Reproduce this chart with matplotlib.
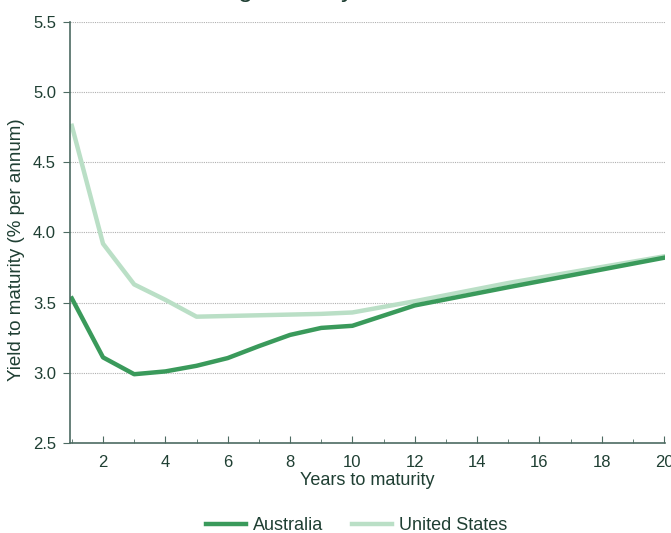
import matplotlib.pyplot as plt
from matplotlib.ticker import MultipleLocator

plt.rcParams['font.family'] = ['Liberation Sans', 'DejaVu Sans']

# yields, % per annum
years_au = [1, 2, 3, 4, 5, 6, 7, 8, 9, 10, 12, 15, 20]
australia = [3.53, 3.11, 2.99, 3.01, 3.05, 3.105, 3.19, 3.27, 3.32, 3.335, 3.48, 3.61, 3.82]
years_us = [1, 2, 3, 4, 5, 6, 7, 8, 9, 10, 12, 15, 20]
united_states = [4.76, 3.92, 3.63, 3.52, 3.40, 3.405, 3.41, 3.415, 3.42, 3.43, 3.51, 3.64, 3.83]

text_col = '#1f3f33'
spine_col = '#4d6b62'
au_col = '#3a9a5b'
us_col = '#badfc6'

fig = plt.figure(figsize=(6.71, 5.33), dpi=100)
ax = fig.add_axes([0.1043, 0.1689, 0.8867, 0.7898])

ax.plot(years_us, united_states, color=us_col, lw=3.2, label='United States', solid_joinstyle='round')
ax.plot(years_au, australia, color=au_col, lw=3.2, label='Australia', solid_joinstyle='round')

ax.set_xlim(0.94, 20.03)
ax.set_ylim(2.5, 5.5)
ax.xaxis.set_major_locator(MultipleLocator(2))
ax.xaxis.set_minor_locator(MultipleLocator(1))
ax.yaxis.set_major_locator(MultipleLocator(0.5))
ax.yaxis.set_major_formatter(plt.FuncFormatter(lambda v, p: f'{v:.1f}'))

for y in [3.0, 3.5, 4.0, 4.5, 5.0, 5.5]:
    ax.axhline(y, color='#b0b0b0', lw=0.8, ls=(0, (1, 1)), zorder=0)

for s in ['top', 'right']:
    ax.spines[s].set_visible(False)
for s in ['left', 'bottom']:
    ax.spines[s].set_color(spine_col)
    ax.spines[s].set_linewidth(1.2)

ax.tick_params(axis='x', which='major', direction='in', length=5, color=spine_col,
               labelsize=12, labelcolor=text_col, pad=9)
ax.tick_params(axis='x', which='minor', direction='in', length=3, color=spine_col)
ax.tick_params(axis='y', direction='out', length=5, color=spine_col,
               labelsize=12, labelcolor=text_col, pad=5)

ax.set_xlabel('Years to maturity', fontsize=13, color=text_col, labelpad=1)
fig.text(17 / 671, 1 - 250 / 533, 'Yield to maturity (% per annum)', rotation=90,
         ha='center', va='center', fontsize=13.5, color=text_col)

# title sits mostly above the top edge in the reference
fig.text(315 / 671, 1.0055, 'Sovereign bond yield curves', ha='center', va='baseline',
         fontsize=19, color=text_col)

handles, labels = ax.get_legend_handles_labels()
fig.legend(handles[::-1], labels[::-1], loc='center', bbox_to_anchor=(357 / 671, 1 - 526 / 533),
           ncol=2, frameon=False, fontsize=13, labelcolor=text_col,
           handlelength=2.2, columnspacing=1.6, handletextpad=0.4)

fig.savefig('out.png', dpi=100)
